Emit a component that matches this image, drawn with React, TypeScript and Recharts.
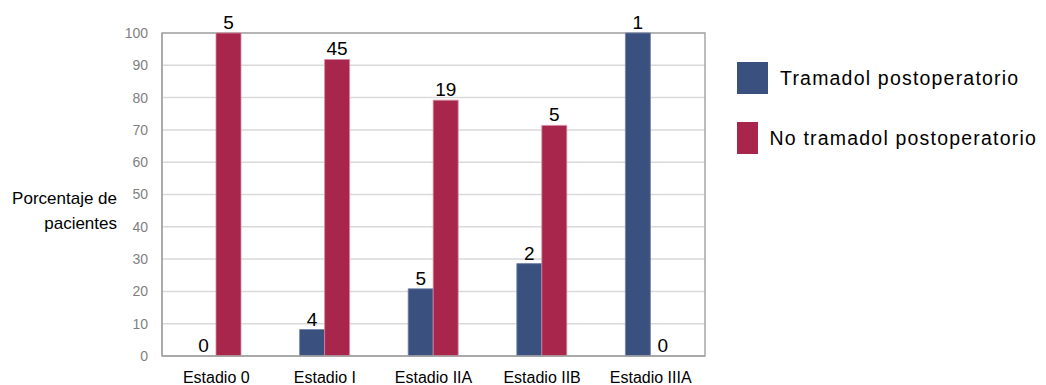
import React from "react";
import {
  BarChart,
  Bar,
  XAxis,
  YAxis,
  CartesianGrid,
  LabelList,
  Legend,
  ReferenceArea,
  Rectangle,
} from "recharts";

// Stage categories along the x axis
const stages = ["Estadio 0", "Estadio I", "Estadio IIA", "Estadio IIB", "Estadio IIIA"];

// Percentage of patients per stage
const tramadolPct = [0, 8.2, 20.8, 28.6, 100];
const noTramadolPct = [100, 91.8, 79.2, 71.4, 0];

// Patient counts shown above each bar
const tramadolN = [0, 4, 5, 2, 1];
const noTramadolN = [5, 45, 19, 5, 0];

const yTicks = [0, 10, 20, 30, 40, 50, 60, 70, 80, 90, 100];

const seriesNames = ["Tramadol postoperatorio", "No tramadol postoperatorio"];

const BLUE = "#3a5180";
const RED = "#a8264c";
const FONT = '"Liberation Sans", Arial, sans-serif';

const data = stages.map((stage, i) => ({
  stage,
  tram: tramadolPct[i],
  noTram: noTramadolPct[i],
  tramN: String(tramadolN[i]),
  noTramN: String(noTramadolN[i]),
}));

// empty bars keep a hairline slot (so their count label is placed) but draw nothing
const BarShape = (props: any) => {
  if (!props.height || Math.abs(props.height) < 1) return <g />;
  return <Rectangle {...props} />;
};

const YTitle = (props: any) => {
  const vb = props.viewBox || {};
  const x = vb.x - 5;
  const cy = vb.y + vb.height / 2;
  return (
    <text x={x} y={cy + 9.5} textAnchor="end" fontSize={17} fill="#000" fontFamily={FONT}>
      <tspan x={x}>Porcentaje de</tspan>
      <tspan x={x} dy={25}>pacientes</tspan>
    </text>
  );
};

const LegendContent = () => {
  const colors = [BLUE, RED];
  return (
    <div style={{ fontFamily: FONT }}>
      {seriesNames.map((name, i) => (
        <div
          key={name}
          style={{ display: "flex", alignItems: "center", height: 32, marginBottom: i === 0 ? 28 : 0 }}
        >
          <div style={{ width: 31, height: 32, background: colors[i] }} />
          <span style={{ marginLeft: 12, fontSize: 19.5, letterSpacing: 1.2, color: "#000", whiteSpace: "nowrap" }}>
            {name}
          </span>
        </div>
      ))}
    </div>
  );
};

export default function App() {
  return (
    <div style={{ width: 1030, height: 377, fontFamily: FONT }}>
      <BarChart
        width={1030}
        height={377}
        data={data}
        margin={{ top: 25, right: 33, bottom: 0, left: 114 }}
        barGap={0}
      >
        <CartesianGrid vertical={false} stroke="#d9d9d9" strokeWidth={1.5} />
        <XAxis
          dataKey="stage"
          height={29}
          tickLine={false}
          axisLine={{ stroke: "#a6a6a6", strokeWidth: 1.5 }}
          tickSize={0}
          tickMargin={16}
          tick={{ fontSize: 16, fill: "#000", fontFamily: FONT }}
          interval={0}
        />
        <YAxis
          width={40}
          domain={[0, 100]}
          ticks={yTicks}
          tickLine={false}
          axisLine={{ stroke: "#a6a6a6", strokeWidth: 1.5 }}
          tickSize={0}
          tickMargin={14}
          tick={{ fontSize: 14, fill: "#7f7f7f", fontFamily: FONT }}
          label={{ content: YTitle }}
        />
        <ReferenceArea y1={0} y2={100} fill="none" stroke="#a6a6a6" strokeWidth={1.5} ifOverflow="extendDomain" />
        <Legend
          layout="vertical"
          verticalAlign="top"
          align="right"
          content={<LegendContent />}
          wrapperStyle={{ left: 729, top: 54, width: 300 }}
        />
        <Bar
          dataKey="tram"
          name={seriesNames[0]}
          fill={BLUE}
          stroke="#7083a8"
          strokeWidth={0.8}
          barSize={25}
          minPointSize={0.1}
          shape={BarShape}
          isAnimationActive={false}
        >
          <LabelList dataKey="tramN" position="top" offset={4} fontSize={19} fill="#000" fontFamily={FONT} />
        </Bar>
        <Bar
          dataKey="noTram"
          name={seriesNames[1]}
          fill={RED}
          stroke="#d68aa2"
          strokeWidth={0.8}
          barSize={25}
          minPointSize={0.1}
          shape={BarShape}
          isAnimationActive={false}
        >
          <LabelList dataKey="noTramN" position="top" offset={4} fontSize={19} fill="#000" fontFamily={FONT} />
        </Bar>
      </BarChart>
    </div>
  );
}
